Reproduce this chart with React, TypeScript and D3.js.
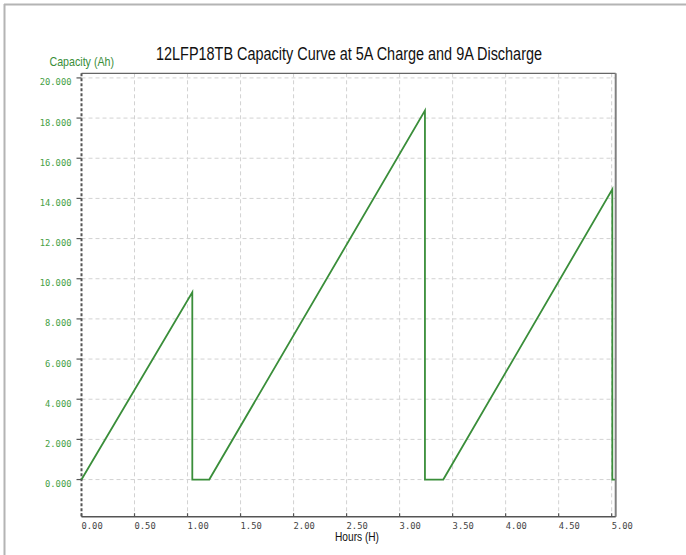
import React from "react";
import * as d3 from "d3";

const hours = [0, 1.045, 1.045, 1.205, 3.239, 3.239, 3.412, 5.006, 5.006, 5.03];
const capacity = [0, 9.32, 0, 0, 18.37, 0, 0, 14.45, 0, 0];
const xTicks = [0, 0.5, 1, 1.5, 2, 2.5, 3, 3.5, 4, 4.5, 5];
const yTicks = [0, 2, 4, 6, 8, 10, 12, 14, 16, 18, 20];
const title = "12LFP18TB Capacity Curve at 5A Charge and 9A Discharge";
const xLabel = "Hours (H)";
const yLabel = "Capacity (Ah)";

const W = 686;
const H = 555;
const L = 81.5, R = 615.7, T = 73.3, B = 516.7;
const green = "#3a8e3a";
const labelGreen = "#45a045";
const mono = "'DejaVu Sans Mono', 'Liberation Mono', monospace";

export default function App() {
  const x = d3.scaleLinear().domain([0, 5.038]).range([L, R]);
  const y = d3.scaleLinear().domain([-1.85, 20.23]).range([B, T]);
  const pts: [number, number][] = hours.map((h, i) => [h, capacity[i]]);
  const line = d3
    .line<[number, number]>()
    .x((d) => x(d[0]))
    .y((d) => y(d[1]));

  return (
    <svg
      width={W}
      height={H}
      style={{ position: "absolute", left: 0, top: 0, background: "#fff" }}
    >
      <rect x={0} y={0} width={W} height={H} fill="#fff" />
      {/* outer frame (top + left visible) */}
      <line x1={4} y1={4.5} x2={W} y2={4.5} stroke="#b4b4b4" strokeWidth={2} />
      <line x1={4.5} y1={4} x2={4.5} y2={H} stroke="#b4b4b4" strokeWidth={2} />

      {/* grid */}
      {xTicks.filter((t) => t > 0).map((t) => (
        <line
          key={"gx" + t}
          x1={x(t)}
          x2={x(t)}
          y1={T}
          y2={B}
          stroke="#d2d2d2"
          strokeDasharray="4,3"
          strokeWidth={1}
        />
      ))}
      {yTicks.map((t) => (
        <line
          key={"gy" + t}
          x1={L}
          x2={R}
          y1={y(t)}
          y2={y(t)}
          stroke="#d2d2d2"
          strokeDasharray="4,3"
          strokeWidth={1}
        />
      ))}

      {/* axes frame */}
      <line x1={L} x2={R} y1={T} y2={T} stroke="#666" strokeWidth={1.2} />
      <line x1={R} x2={R} y1={T} y2={B} stroke="#808080" strokeWidth={2} />
      <line x1={L} x2={R} y1={B} y2={B} stroke="#555" strokeWidth={1.5} />
      <line
        x1={L}
        x2={L}
        y1={T}
        y2={B}
        stroke="#555"
        strokeWidth={2}
        strokeDasharray="3,2"
      />

      {/* y ticks + labels */}
      {yTicks.map((t) => (
        <g key={"yt" + t}>
          <line x1={L - 5} x2={L} y1={y(t)} y2={y(t)} stroke="#555" strokeWidth={1.2} />
          <text
            x={71.5}
            y={y(t) + 7.5}
            textAnchor="end"
            fontFamily={mono}
            fontSize={8.8}
            fill={labelGreen}
          >
            {d3.format(".3f")(t)}
          </text>
        </g>
      ))}

      {/* x ticks + labels */}
      {xTicks.map((t) => (
        <g key={"xt" + t}>
          <line x1={x(t)} x2={x(t)} y1={B - 3.5} y2={B} stroke="#555" strokeWidth={1.2} />
          <text
            x={x(t)}
            y={528.5}
            textAnchor="start"
            fontFamily={mono}
            fontSize={8.8}
            fill="#444"
          >
            {d3.format(".2f")(t)}
          </text>
        </g>
      ))}

      {/* data line */}
      <path d={line(pts) || ""} fill="none" stroke={green} strokeWidth={1.8} strokeLinejoin="miter" />

      {/* titles */}
      <text
        x={156}
        y={60}
        fontFamily="'Liberation Sans', Arial, sans-serif"
        fontSize={17.5}
        fill="#111"
        textLength={386}
        lengthAdjust="spacingAndGlyphs"
      >
        {title}
      </text>
      <text
        x={49.5}
        y={66}
        fontFamily="'Liberation Sans', Arial, sans-serif"
        fontSize={13}
        fill={green}
        textLength={64.5}
        lengthAdjust="spacingAndGlyphs"
      >
        {yLabel}
      </text>
      <text
        x={335}
        y={540.5}
        fontFamily="'Liberation Sans', Arial, sans-serif"
        fontSize={12.5}
        fill="#111"
        textLength={44}
        lengthAdjust="spacingAndGlyphs"
      >
        {xLabel}
      </text>
    </svg>
  );
}
